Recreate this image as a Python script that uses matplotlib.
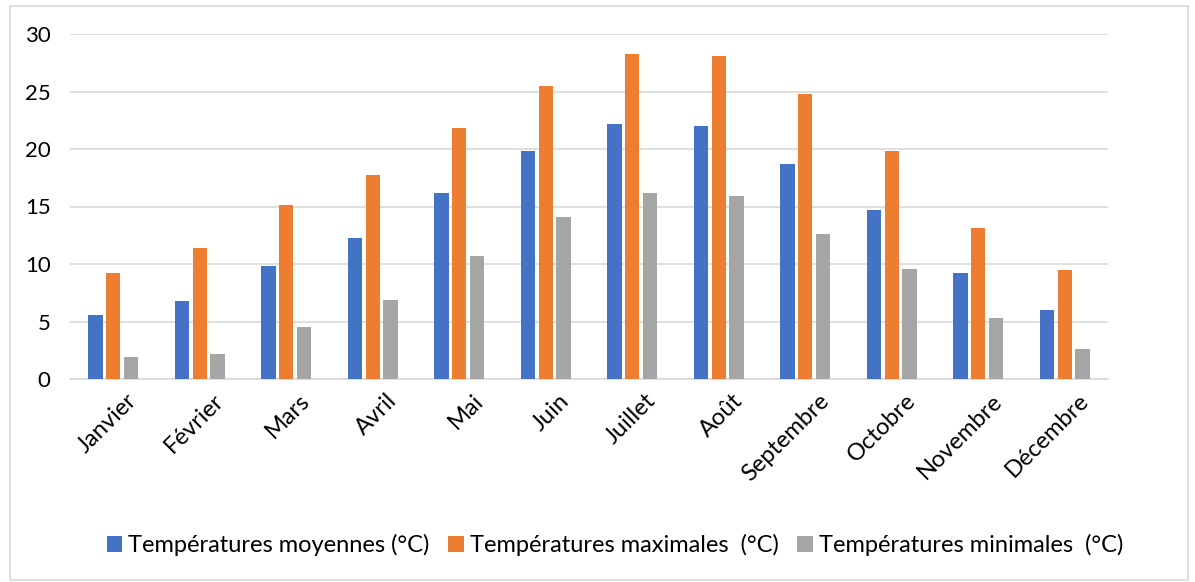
import numpy as np
import matplotlib
matplotlib.use("Agg")
import matplotlib.pyplot as plt
from matplotlib.patches import Rectangle

mois = ["Janvier", "Février", "Mars", "Avril", "Mai", "Juin", "Juillet",
        "Août", "Septembre", "Octobre", "Novembre", "Décembre"]
moyennes = [5.6, 6.8, 9.8, 12.3, 16.2, 19.8, 22.2, 22.0, 18.7, 14.7, 9.2, 6.0]
maximales = [9.2, 11.4, 15.1, 17.7, 21.8, 25.5, 28.3, 28.1, 24.8, 19.8, 13.1, 9.5]
minimales = [1.9, 2.2, 4.5, 6.9, 10.7, 14.1, 16.2, 15.9, 12.6, 9.6, 5.3, 2.6]
series = ["Températures moyennes (°C)", "Températures maximales  (°C)",
          "Températures minimales  (°C)"]
couleurs = ["#4472C4", "#ED7D31", "#A5A5A5"]

plt.rcParams['font.family'] = ['Lato', 'DejaVu Sans']

W, H = 1195, 582
fig = plt.figure(figsize=(W / 100, H / 100), dpi=100)
# cadre du graphique
fig.patches.append(Rectangle((10 / W, 2 / H), 1178 / W, 574 / H, transform=fig.transFigure,
                             fill=False, edgecolor="#D9D9D9", linewidth=1.2))

ax = fig.add_axes([70 / W, 1 - 379 / H, (1108 - 70) / W, (379 - 34) / H])
x = np.arange(len(mois))
larg = 0.165
pas = 0.205
for i, (vals, c, nom) in enumerate(zip([moyennes, maximales, minimales], couleurs, series)):
    ax.bar(x + (i - 1) * pas, vals, width=larg, color=c, label=nom, zorder=3)

ax.set_xlim(-0.5, len(mois) - 0.5)
ax.set_ylim(0, 30)
ax.set_yticks(range(0, 31, 5))
ax.yaxis.grid(True, color="#D9D9D9", linewidth=1.2, zorder=0)
for s in ["top", "right", "left"]:
    ax.spines[s].set_visible(False)
ax.spines["bottom"].set_color("#D9D9D9")
ax.spines["bottom"].set_linewidth(1.2)
ax.tick_params(axis="both", length=0, colors="black")
ax.tick_params(axis="y", labelsize=16, pad=14)
ax.tick_params(axis="x", labelsize=17, pad=8)
ax.set_xticks(x + 0.15)
ax.set_xticklabels(mois, rotation=45, ha="right", rotation_mode="anchor")

fig.legend(loc="center", bbox_to_anchor=(615 / W, 1 - 545 / H), ncol=3, frameon=False,
           fontsize=17, handlelength=0.65, handleheight=0.65, handletextpad=0.25,
           columnspacing=0.8)

fig.savefig("out.png", dpi=100)
